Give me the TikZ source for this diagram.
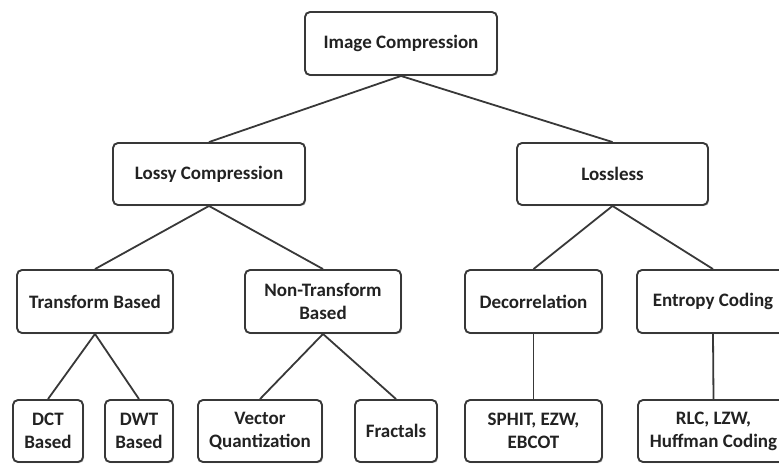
\documentclass[tikz,border=0pt]{standalone}
\usepackage{fontspec}
\setmainfont{Carlito}
\usetikzlibrary{shadows}
\definecolor{edge}{HTML}{383838}
\definecolor{txt}{HTML}{222222}
\tikzset{
  box/.style={draw=edge, line width=1.9pt, rounded corners=5pt, fill=white,
    align=center, text=txt, inner sep=0pt,
    font=\fontsize{19}{23}\selectfont\bfseries,
    drop shadow={shadow xshift=1.2pt, shadow yshift=-1.2pt, opacity=0.35, fill=gray}},
  link/.style={draw=edge, line width=1.8pt}
}
\begin{document}
\begin{tikzpicture}[x=1pt,y=-1pt]
\useasboundingbox (0,0) rectangle (779,464);
\begin{scope}
\clip (0,0) rectangle (779,464);
% row 0
\node[box, minimum width=192pt, minimum height=63pt] (ic) at (401,43.5) {Image Compression};
% row 1
\node[box, minimum width=192pt, minimum height=62pt] (lossy) at (209,174) {Lossy Compression};
\node[box, minimum width=191pt, minimum height=62pt] (lossless) at (612.5,174) {Lossless};
% row 2
\node[box, minimum width=156pt, minimum height=63pt] (tb) at (95,301.5) {Transform Based};
\node[box, minimum width=156pt, minimum height=63pt] (ntb) at (323,301.5) {Non-Transform\\Based};
\node[box, minimum width=137pt, minimum height=63pt] (dec) at (533.5,301.5) {Decorrelation};
\node[box, minimum width=152pt, minimum height=63pt] (ent) at (713,301.5) {Entropy Coding};
% row 3
\node[box, minimum width=70pt, minimum height=62pt] (dct) at (48,431) {DCT\\Based};
\node[box, minimum width=68pt, minimum height=62pt] (dwt) at (139,431) {DWT\\Based};
\node[box, minimum width=124pt, minimum height=62pt] (vq) at (260,431) {Vector\\Quantization};
\node[box, minimum width=82pt, minimum height=62pt] (fr) at (396,431) {Fractals};
\node[box, minimum width=137pt, minimum height=62pt] (sp) at (533.5,431) {SPHIT, EZW,\\EBCOT};
\node[box, minimum width=151pt, minimum height=62pt] (rlc) at (713.5,431) {RLC, LZW,\\Huffman Coding};
% connectors
\draw[link] (ic.south) -- (lossy.north);
\draw[link] (ic.south) -- (lossless.north);
\draw[link] (lossy.south) -- (tb.north);
\draw[link] (lossy.south) -- (ntb.north);
\draw[link] (lossless.south) -- (dec.north);
\draw[link] (lossless.south) -- (ent.north);
\draw[link] (tb.south) -- (dct.north);
\draw[link] (tb.south) -- (dwt.north);
\draw[link] (ntb.south) -- (vq.north);
\draw[link] (ntb.south) -- (fr.north);
\draw[link] (dec.south) -- (sp.north);
\draw[link] (ent.south) -- (rlc.north);
\end{scope}
\end{tikzpicture}
\end{document}
